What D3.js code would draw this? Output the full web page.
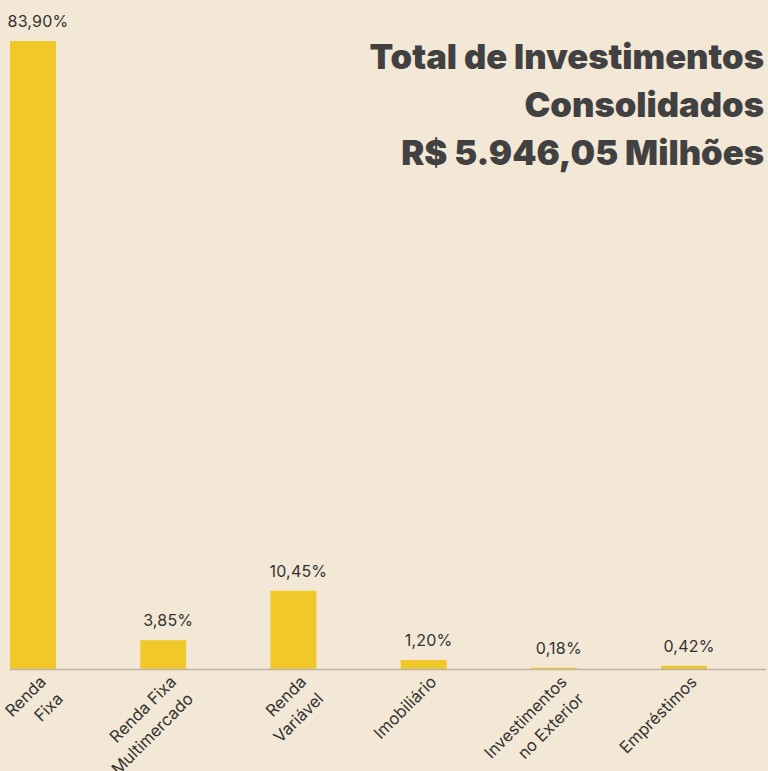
<!DOCTYPE html>
<html>
<head>
<meta charset="utf-8">
<script src="https://cdn.jsdelivr.net/npm/d3@7"></script>
<style>
  html, body { margin: 0; padding: 0; background: #f3e7d5; }
  svg { display: block; }
</style>
</head>
<body>
<div id="main"></div>
<script>
// chart data
const categories = [
    ['Renda', 'Fixa'],
    ['Renda Fixa', 'Multimercado'],
    ['Renda', 'Variável'],
    ['Imobiliário'],
    ['Investimentos', 'no Exterior'],
    ['Empréstimos']
];
const values = [83.90, 3.85, 10.45, 1.20, 0.18, 0.42];
const valueLabels = ['83,90%', '3,85%', '10,45%', '1,20%', '0,18%', '0,42%'];
const titleLines = ['Total de Investimentos', 'Consolidados', 'R$ 5.946,05 Milhões'];

const svgWidth = 768;
const svgHeight = 771;
const baseline = 669;
const colors = { bar: '#f0c82a', text: '#333333', title: '#414141', axis: '#bdb5aa' };

const keys = categories.map(d => d.join(' '));

const svg = d3.select('#main')
    .append('svg')
    .attr('width', svgWidth)
    .attr('height', svgHeight);

const xScale = d3.scaleBand()
    .domain(keys)
    .range([10, 707])
    .paddingInner(0.647)
    .paddingOuter(0);

const yScale = d3.scaleLinear()
    .domain([0, d3.max(values)])
    .range([baseline, 41]);

// bars
svg.selectAll('rect.bar')
    .data(values)
    .enter()
    .append('rect')
    .attr('class', 'bar')
    .attr('x', (d, i) => xScale(keys[i]))
    .attr('y', d => yScale(d))
    .attr('width', xScale.bandwidth())
    .attr('height', d => baseline - yScale(d))
    .attr('fill', colors.bar);

// baseline
svg.append('line')
    .attr('x1', 10)
    .attr('x2', 766)
    .attr('y1', baseline + 0.5)
    .attr('y2', baseline + 0.5)
    .attr('stroke', colors.axis)
    .attr('stroke-width', 1.5);

// value labels
svg.selectAll('text.value')
    .data(values)
    .enter()
    .append('text')
    .attr('class', 'value')
    .attr('x', (d, i) => xScale(keys[i]) + xScale.bandwidth() / 2 + 5)
    .attr('y', d => yScale(d) - 14)
    .attr('text-anchor', 'middle')
    .attr('font-family', 'Inter, sans-serif')
    .attr('font-size', 16)
    .attr('letter-spacing', 0.2)
    .attr('fill', colors.text)
    .text((d, i) => valueLabels[i]);

// category labels, rotated
const catLabels = svg.selectAll('text.cat')
    .data(categories)
    .enter()
    .append('text')
    .attr('class', 'cat')
    .attr('transform', (d, i) =>
        `translate(${xScale(keys[i]) + xScale.bandwidth() / 2 + 14}, ${baseline + 14}) rotate(-45)`)
    .attr('text-anchor', 'end')
    .attr('font-family', 'Inter, sans-serif')
    .attr('font-size', 16.5)
    .attr('fill', colors.text);

catLabels.selectAll('tspan')
    .data(d => d)
    .enter()
    .append('tspan')
    .attr('x', 0)
    .attr('dy', (d, i) => i === 0 ? 0 : 24)
    .text(d => d);

// title
svg.append('text')
    .attr('text-anchor', 'end')
    .attr('font-family', 'Inter, sans-serif')
    .attr('font-weight', 900)
    .attr('font-size', 34.6)
    .attr('fill', colors.title)
    .selectAll('tspan')
    .data(titleLines)
    .enter()
    .append('tspan')
    .attr('x', 764)
    .attr('y', (d, i) => 69 + i * 48)
    .text(d => d);
</script>
</body>
</html>
